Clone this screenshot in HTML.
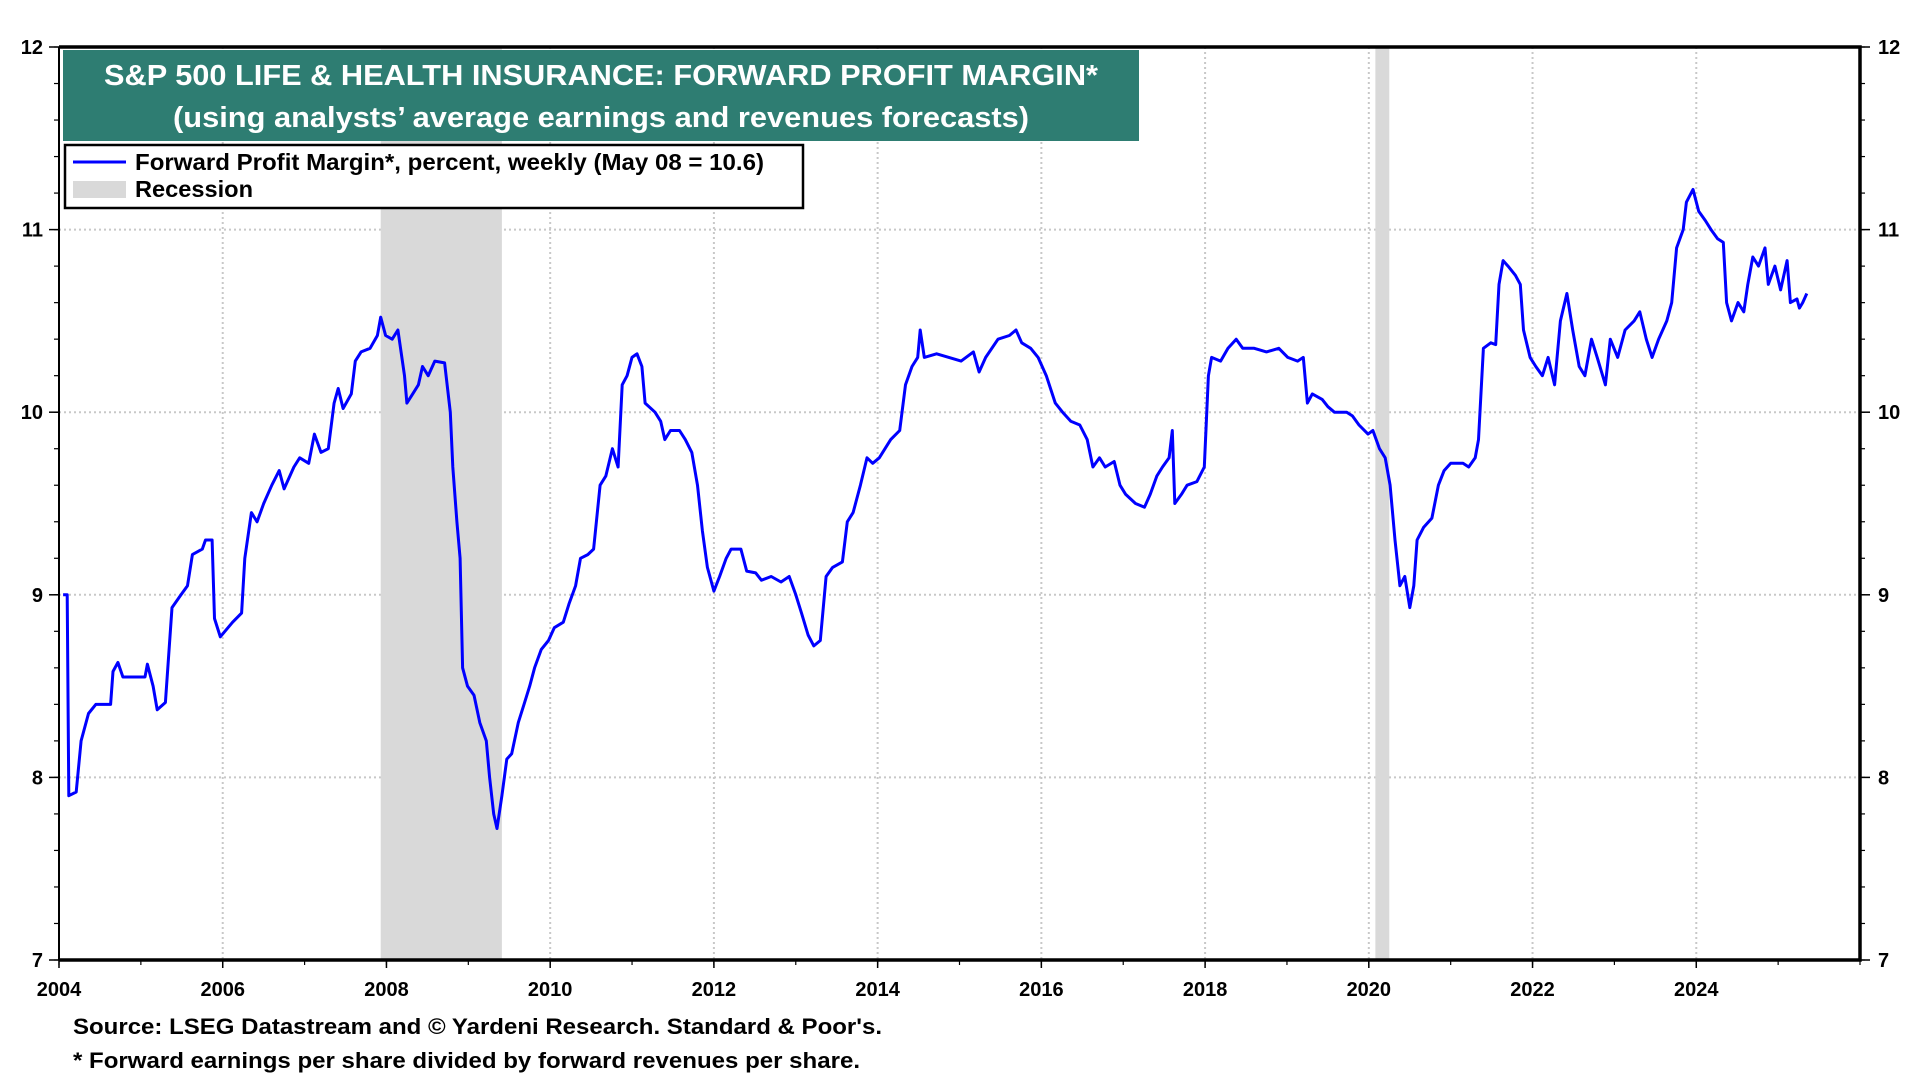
<!DOCTYPE html>
<html><head><meta charset="utf-8"><style>
html,body{margin:0;padding:0;background:#fff;}
svg{display:block;font-family:"Liberation Sans",Arial,sans-serif;font-weight:bold;}
</style></head><body>
<svg id="chart" width="1920" height="1080" viewBox="0 0 1920 1080">
<g id="grid"></g>
<g id="rec"></g>
<g id="series"></g>
<g id="axes"></g>
<g>
<rect x="63" y="50" width="1076" height="91" fill="#2E7D72"/>
<text x="104" y="85" font-size="29" fill="#fff" textLength="994" lengthAdjust="spacingAndGlyphs">S&amp;P 500 LIFE &amp; HEALTH INSURANCE: FORWARD PROFIT MARGIN*</text>
<text x="173" y="127" font-size="29" fill="#fff" textLength="856" lengthAdjust="spacingAndGlyphs">(using analysts’ average earnings and revenues forecasts)</text>
</g>
<g>
<rect x="65" y="145" width="738" height="63" fill="#fff" stroke="#000" stroke-width="2.5"/>
<line x1="73" y1="162" x2="126" y2="162" stroke="#0000ff" stroke-width="3"/>
<text x="135" y="170" font-size="23" textLength="629" lengthAdjust="spacingAndGlyphs">Forward Profit Margin*, percent, weekly (May 08 = 10.6)</text>
<rect x="73" y="181" width="53" height="17" fill="#d9d9d9"/>
<text x="135" y="197" font-size="23" textLength="118" lengthAdjust="spacingAndGlyphs">Recession</text>
</g>
<text x="73" y="1034" font-size="22" textLength="809" lengthAdjust="spacingAndGlyphs">Source: LSEG Datastream and © Yardeni Research. Standard &amp; Poor's.</text>
<text x="73" y="1068" font-size="22" textLength="787" lengthAdjust="spacingAndGlyphs">* Forward earnings per share divided by forward revenues per share.</text>
</svg>
<script>
const dates=[2004.05,2004.1,2004.12,2004.21,2004.27,2004.36,2004.45,2004.63,2004.66,2004.72,2004.78,2005.05,2005.08,2005.15,2005.2,2005.3,2005.38,2005.49,2005.57,2005.63,2005.75,2005.79,2005.87,2005.9,2005.97,2006.12,2006.23,2006.27,2006.35,2006.42,2006.5,2006.6,2006.69,2006.75,2006.87,2006.94,2007.05,2007.12,2007.2,2007.29,2007.36,2007.41,2007.47,2007.57,2007.62,2007.69,2007.8,2007.89,2007.93,2007.99,2008.07,2008.14,2008.22,2008.25,2008.32,2008.39,2008.44,2008.51,2008.59,2008.71,2008.78,2008.81,2008.86,2008.9,2008.93,2008.99,2009.07,2009.14,2009.22,2009.26,2009.31,2009.35,2009.41,2009.47,2009.53,2009.61,2009.68,2009.75,2009.81,2009.89,2009.98,2010.05,2010.16,2010.23,2010.31,2010.37,2010.46,2010.53,2010.61,2010.68,2010.76,2010.83,2010.88,2010.94,2011.0,2011.06,2011.12,2011.16,2011.28,2011.35,2011.4,2011.47,2011.58,2011.65,2011.73,2011.8,2011.86,2011.92,2012.0,2012.07,2012.15,2012.21,2012.33,2012.4,2012.51,2012.58,2012.7,2012.82,2012.92,2013.0,2013.07,2013.15,2013.22,2013.3,2013.37,2013.45,2013.57,2013.63,2013.7,2013.79,2013.87,2013.94,2014.02,2014.09,2014.16,2014.27,2014.34,2014.42,2014.49,2014.52,2014.57,2014.72,2014.87,2015.02,2015.17,2015.24,2015.32,2015.47,2015.61,2015.69,2015.76,2015.87,2015.96,2016.06,2016.17,2016.26,2016.36,2016.47,2016.56,2016.63,2016.71,2016.78,2016.89,2016.96,2017.03,2017.15,2017.26,2017.33,2017.41,2017.48,2017.56,2017.6,2017.63,2017.71,2017.78,2017.9,2017.99,2018.04,2018.08,2018.19,2018.28,2018.38,2018.46,2018.6,2018.75,2018.9,2019.01,2019.13,2019.2,2019.25,2019.31,2019.43,2019.5,2019.58,2019.73,2019.8,2019.88,2019.99,2020.05,2020.13,2020.2,2020.26,2020.32,2020.38,2020.44,2020.5,2020.55,2020.59,2020.67,2020.77,2020.85,2020.92,2021.0,2021.15,2021.22,2021.3,2021.34,2021.4,2021.49,2021.55,2021.59,2021.64,2021.7,2021.79,2021.85,2021.89,2021.97,2022.04,2022.12,2022.19,2022.27,2022.34,2022.42,2022.49,2022.57,2022.64,2022.72,2022.79,2022.89,2022.95,2023.04,2023.13,2023.24,2023.31,2023.39,2023.46,2023.54,2023.64,2023.7,2023.76,2023.84,2023.88,2023.96,2024.03,2024.11,2024.18,2024.26,2024.33,2024.37,2024.43,2024.51,2024.58,2024.63,2024.69,2024.76,2024.84,2024.88,2024.96,2025.03,2025.11,2025.15,2025.23,2025.26,2025.3,2025.35];
const margin=[9.0,9.0,7.9,7.92,8.2,8.35,8.4,8.4,8.58,8.63,8.55,8.55,8.62,8.5,8.37,8.41,8.93,9.0,9.05,9.22,9.25,9.3,9.3,8.87,8.77,8.85,8.9,9.2,9.45,9.4,9.5,9.6,9.68,9.58,9.7,9.75,9.72,9.88,9.78,9.8,10.05,10.13,10.02,10.1,10.28,10.33,10.35,10.42,10.52,10.42,10.4,10.45,10.2,10.05,10.1,10.15,10.25,10.2,10.28,10.27,10.0,9.7,9.4,9.2,8.6,8.5,8.45,8.3,8.2,8.0,7.8,7.72,7.9,8.1,8.13,8.3,8.4,8.5,8.6,8.7,8.75,8.82,8.85,8.95,9.05,9.2,9.22,9.25,9.6,9.65,9.8,9.7,10.15,10.2,10.3,10.32,10.25,10.05,10.0,9.95,9.85,9.9,9.9,9.85,9.78,9.6,9.35,9.15,9.02,9.1,9.2,9.25,9.25,9.13,9.12,9.08,9.1,9.07,9.1,9.0,8.9,8.78,8.72,8.75,9.1,9.15,9.18,9.4,9.45,9.6,9.75,9.72,9.75,9.8,9.85,9.9,10.15,10.25,10.3,10.45,10.3,10.32,10.3,10.28,10.33,10.22,10.3,10.4,10.42,10.45,10.38,10.35,10.3,10.2,10.05,10.0,9.95,9.93,9.85,9.7,9.75,9.7,9.73,9.6,9.55,9.5,9.48,9.55,9.65,9.7,9.75,9.9,9.5,9.55,9.6,9.62,9.7,10.2,10.3,10.28,10.35,10.4,10.35,10.35,10.33,10.35,10.3,10.28,10.3,10.05,10.1,10.07,10.03,10.0,10.0,9.98,9.93,9.88,9.9,9.8,9.75,9.6,9.3,9.05,9.1,8.93,9.05,9.3,9.37,9.42,9.6,9.68,9.72,9.72,9.7,9.75,9.85,10.35,10.38,10.37,10.7,10.83,10.8,10.75,10.7,10.45,10.3,10.25,10.2,10.3,10.15,10.5,10.65,10.45,10.25,10.2,10.4,10.3,10.15,10.4,10.3,10.45,10.5,10.55,10.4,10.3,10.4,10.5,10.6,10.9,11.0,11.15,11.22,11.1,11.05,11.0,10.95,10.93,10.6,10.5,10.6,10.55,10.7,10.85,10.8,10.9,10.7,10.8,10.67,10.83,10.6,10.62,10.57,10.6,10.65];
const recessionStarts=[2007.93,2020.08];
const recessionEnds=[2009.41,2020.25];
const yTicks=[7,8,9,10,11,12];
const xTicks=[2004,2006,2008,2010,2012,2014,2016,2018,2020,2022,2024];

const L=59,R=1860,T=47,B=960,X0=2004,X1=2026,Y0=7,Y1=12;
const sx=v=>L+(v-X0)/(X1-X0)*(R-L);
const sy=v=>B-(v-Y0)/(Y1-Y0)*(B-T);
const NS='http://www.w3.org/2000/svg';
function mk(tag,attrs,parent){const e=document.createElementNS(NS,tag);for(const k in attrs)e.setAttribute(k,attrs[k]);parent.appendChild(e);return e;}
const grid=document.getElementById('grid'),rec=document.getElementById('rec'),ser=document.getElementById('series'),axes=document.getElementById('axes');

yTicks.forEach(v=>{
  if(v>Y0&&v<Y1){const g=mk('line',{x1:L,x2:R,y1:sy(v),y2:sy(v),stroke:'#c8c8c8','stroke-width':2,'stroke-dasharray':'2,3'},grid);
  
  }
  const t1=mk('text',{x:43,y:sy(v)+7,'text-anchor':'end','font-size':20},axes);t1.textContent=v;
  
  
  const t2=mk('text',{x:1878,y:sy(v)+7,'text-anchor':'start','font-size':20},axes);t2.textContent=v;
  
  
  mk('line',{x1:L-10,x2:L,y1:sy(v),y2:sy(v),stroke:'#000','stroke-width':1.5},axes);
  mk('line',{x1:R,x2:R+10,y1:sy(v),y2:sy(v),stroke:'#000','stroke-width':1.5},axes);
});
for(let v=Y0;v<Y1;v+=0.2){
  mk('line',{x1:L-5,x2:L,y1:sy(v),y2:sy(v),stroke:'#000','stroke-width':1.2},axes);
  mk('line',{x1:R,x2:R+5,y1:sy(v),y2:sy(v),stroke:'#000','stroke-width':1.2},axes);
}
xTicks.forEach(v=>{
  if(v>X0){const g=mk('line',{x1:sx(v),x2:sx(v),y1:T,y2:B,stroke:'#c8c8c8','stroke-width':2,'stroke-dasharray':'2,3'},grid);
  
  }
  const t=mk('text',{x:sx(v),y:996,'text-anchor':'middle','font-size':20},axes);t.textContent=v;
  
  
  mk('line',{x1:sx(v),x2:sx(v),y1:B,y2:B+8,stroke:'#000','stroke-width':1.5},axes);
});
for(let v=X0;v<=X1;v+=1){mk('line',{x1:sx(v),x2:sx(v),y1:B,y2:B+5,stroke:'#000','stroke-width':1.2},axes);}
recessionStarts.forEach((s,i)=>{
  const r=mk('rect',{x:sx(s),y:T,width:sx(recessionEnds[i])-sx(s),height:B-T,fill:'#d9d9d9'},rec);
  
  
});
const pts=dates.map((d,i)=>sx(d).toFixed(1)+','+sy(margin[i]).toFixed(1)).join(' ');
const line=mk('polyline',{points:pts,fill:'none',stroke:'#0000ff','stroke-width':3,'stroke-linejoin':'round'},ser);


const frame=mk('path',{d:`M${L},${T} H${R} V${B} H${L}`,fill:'none',stroke:'#000','stroke-width':3.5},axes);


const lf=mk('line',{x1:L,x2:L,y1:T,y2:B,stroke:'#000','stroke-width':2},axes);


</script>
</body></html>
